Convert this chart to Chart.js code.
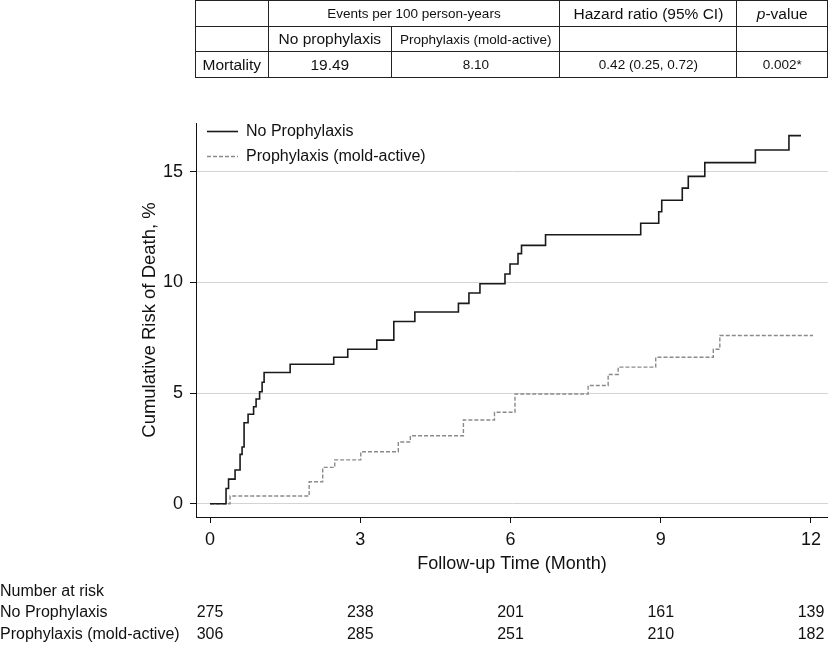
<!DOCTYPE html>
<html>
<head>
<meta charset="utf-8">
<script src="https://cdn.jsdelivr.net/npm/chart.js@4.4.1/dist/chart.umd.min.js"></script>
<style>
  html, body { margin: 0; padding: 0; background: #fff; overflow: hidden; }
  body { width: 828px; height: 646px; position: relative; font-family: "Liberation Sans", Arial, Helvetica, sans-serif; }
  #km { position: absolute; left: 0; top: 0; }
  table.summary { position: absolute; left: 195px; top: 0; border-collapse: collapse; table-layout: fixed; z-index: 2; }
  table.summary td { border: 1px solid #222; padding: 0; text-align: center; color: #111; white-space: nowrap; }
  table.summary tr.r1 td { height: 25px; }
  table.summary tr.r2 td { height: 24px; }
  table.summary tr.r3 td { height: 25px; }
  .big { font-size: 15.5px; }
  .small { font-size: 13.5px; }
</style>
</head>
<body>
<table class="summary">
  <colgroup>
    <col style="width:74px"><col style="width:126px"><col style="width:170px"><col style="width:180px"><col style="width:95px">
  </colgroup>
  <tr class="r1">
    <td></td>
    <td colspan="2" class="small">Events per 100 person-years</td>
    <td class="big">Hazard ratio (95% CI)</td>
    <td class="big"><i>p</i>-value</td>
  </tr>
  <tr class="r2">
    <td></td>
    <td class="big">No prophylaxis</td>
    <td class="small">Prophylaxis (mold-active)</td>
    <td></td>
    <td></td>
  </tr>
  <tr class="r3">
    <td class="big">Mortality</td>
    <td class="big">19.49</td>
    <td class="small">8.10</td>
    <td class="small">0.42 (0.25, 0.72)</td>
    <td class="small">0.002*</td>
  </tr>
</table>
<canvas id="km" width="828" height="646"></canvas>
<script>
// follow-up months where the curves step, and cumulative risk (%) after each step
const noProphTime = [0, 0.32, 0.37, 0.50, 0.60, 0.64, 0.68, 0.76, 0.87, 0.92, 0.99, 1.04, 1.08, 1.60, 2.47, 2.75, 3.33, 3.67,
  4.09, 4.96, 5.17, 5.39, 5.89, 5.99, 6.15, 6.22, 6.70, 8.60, 8.96, 9.02, 9.43, 9.55, 9.88, 10.89, 11.56, 11.80];
const noProphRisk = [0, 0.69, 1.11, 1.52, 2.23, 2.56, 3.66, 4.04, 4.38, 4.73, 5.06, 5.49, 5.93, 6.30, 6.62, 6.98, 7.39, 8.23,
  8.66, 9.05, 9.52, 9.94, 10.38, 10.83, 11.30, 11.67, 12.15, 12.67, 13.19, 13.71, 14.26, 14.79, 15.41, 15.98, 16.63, 16.63];
const prophTime = [0, 0.40, 1.98, 2.25, 2.49, 3.01, 3.76, 4.00, 5.06, 5.68, 6.09, 7.55, 7.95, 8.15, 8.90, 10.05, 10.18, 12.04];
const prophRisk = [0, 0.35, 0.99, 1.64, 1.98, 2.35, 2.79, 3.07, 3.78, 4.13, 4.96, 5.34, 5.84, 6.17, 6.62, 6.98, 7.60, 7.60];

const seriesNames = ['No Prophylaxis', 'Prophylaxis (mold-active)'];
const monthTicks = [0, 3, 6, 9, 12];
const riskTicks = [0, 5, 10, 15];
const atRiskNoProph = [275, 238, 201, 161, 139];
const atRiskProph = [306, 285, 251, 210, 182];

const FONT = '"Liberation Sans", Arial, Helvetica, sans-serif';

function toPoints(times, values) {
  return times.map((t, i) => ({ x: t, y: values[i] }));
}

// legend inside the plot, top left
const kmLegend = {
  id: 'kmLegend',
  afterDraw(chart) {
    const ctx = chart.ctx;
    const left = chart.chartArea.left;
    ctx.save();
    ctx.font = '16px ' + FONT;
    ctx.textBaseline = 'middle';
    chart.data.datasets.forEach((ds, i) => {
      const y = 131.5 + i * 25;
      ctx.strokeStyle = ds.borderColor;
      ctx.lineWidth = ds.borderWidth;
      ctx.setLineDash(ds.borderDash || []);
      ctx.beginPath();
      ctx.moveTo(left + 11, y);
      ctx.lineTo(left + 42, y);
      ctx.stroke();
      ctx.setLineDash([]);
      ctx.fillStyle = '#111';
      ctx.fillText(ds.label, left + 50, y);
    });
    ctx.restore();
  }
};

// number at risk table under the x axis
const atRiskTable = {
  id: 'atRiskTable',
  afterDraw(chart) {
    const ctx = chart.ctx;
    const xs = chart.scales.x;
    ctx.save();
    ctx.font = '16px ' + FONT;
    ctx.fillStyle = '#111';
    ctx.textBaseline = 'middle';
    ctx.textAlign = 'left';
    ctx.fillText('Number at risk', 0, 592);
    ctx.fillText(seriesNames[0], 0, 613);
    ctx.fillText(seriesNames[1], 0, 635);
    ctx.textAlign = 'center';
    monthTicks.forEach((m, i) => {
      const px = xs.getPixelForValue(m);
      ctx.fillText(String(atRiskNoProph[i]), px, 613);
      ctx.fillText(String(atRiskProph[i]), px, 635);
    });
    ctx.restore();
  }
};

new Chart(document.getElementById('km').getContext('2d'), {
  type: 'line',
  data: {
    datasets: [{
      label: seriesNames[0],
      data: toPoints(noProphTime, noProphRisk),
      stepped: 'before',
      borderColor: '#1a1a1a',
      borderWidth: 1.6,
      pointRadius: 0,
      fill: false
    }, {
      label: seriesNames[1],
      data: toPoints(prophTime, prophRisk),
      stepped: 'before',
      borderColor: '#8a8a8a',
      borderWidth: 1.4,
      borderDash: [4, 2],
      pointRadius: 0,
      fill: false
    }]
  },
  options: {
    responsive: false,
    animation: false,
    devicePixelRatio: 1,
    layout: { padding: { top: 123, left: 139, right: 0, bottom: 71 } },
    plugins: {
      legend: { display: false },
      tooltip: { enabled: false }
    },
    scales: {
      x: {
        type: 'linear',
        min: -0.28,
        max: 12.34,
        afterBuildTicks: s => { s.ticks = monthTicks.map(v => ({ value: v })); },
        afterFit: s => { s.height = 58; },
        grid: { drawOnChartArea: false, drawTicks: true, tickLength: 6, tickColor: '#111' },
        border: { display: true, color: '#111', width: 1 },
        ticks: { color: '#111', padding: 6, maxRotation: 0, autoSkip: false, font: { size: 18, family: FONT } },
        title: { display: true, text: 'Follow-up Time (Month)', color: '#111', font: { size: 18, family: FONT }, padding: { top: 4, bottom: 0 } }
      },
      y: {
        type: 'linear',
        min: -0.6,
        max: 17.2,
        afterBuildTicks: s => { s.ticks = riskTicks.map(v => ({ value: v })); },
        afterFit: s => { s.width = 57; },
        grid: { color: '#d4d4d4', lineWidth: 1, drawTicks: true, tickLength: 6, tickColor: '#111' },
        border: { display: true, color: '#111', width: 1 },
        ticks: { color: '#111', padding: 7, font: { size: 18, family: FONT } },
        title: { display: true, text: 'Cumulative Risk of Death, %', color: '#111', font: { size: 18.5, family: FONT }, padding: { top: 0, bottom: 0 } }
      }
    }
  },
  plugins: [kmLegend, atRiskTable]
});
</script>
</body>
</html>
